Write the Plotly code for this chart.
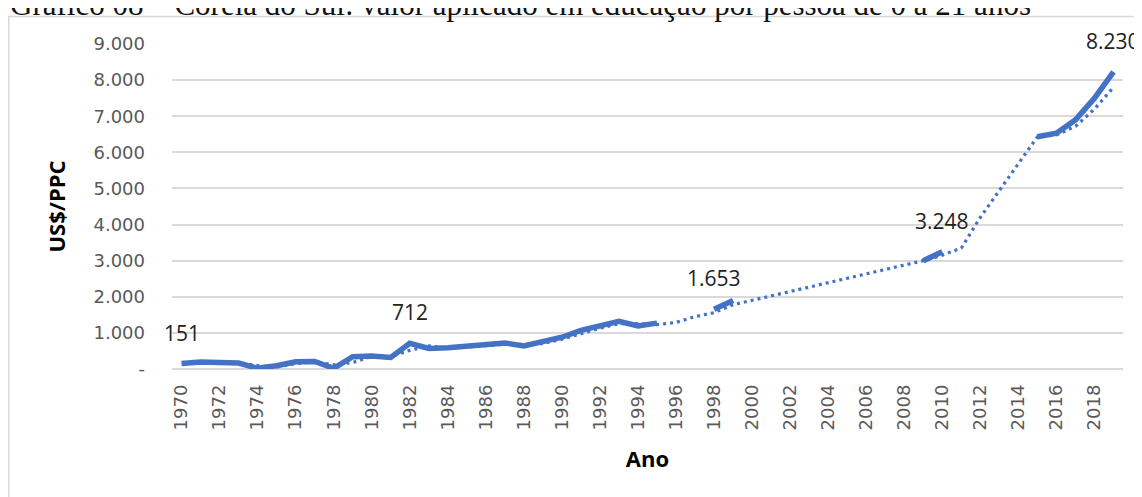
import plotly.graph_objects as go

years = list(range(1970, 2020))

# Observed values (US$/PPC); None = no solid segment drawn
valores = [151, 197, 180, 165, 20, 90, 200, 210, 20, 340,
           360, 320, 712, 570, 590, 630, 650, 720, 640, 770,
           880, 1070, 1190, 1320, 1190, 1270, None, None, 1653, 1900,
           None, None, None, None, None, None, None, None, None, 3000,
           3248, None, None, None, None, 6430, 6530, 6900, 7500, 8230]

# Dotted trend line
tendencia = [None, 175, 190, 172, 95, 55, 145, 205, 115, 180,
             345, 340, 516, 640, 580, 610, 640, 685, 680, 705,
             825, 975, 1130, 1255, 1255, 1230, 1290, 1450, 1560, 1780,
             1900, 2020, 2140, 2260, 2390, 2510, 2640, 2760, 2880, 3000,
             3150, 3350, 4200, 4950, 5700, 6430, 6480, 6720, 7200, 7800]

rotulos_anos = [1970, 1982, 1998, 2010, 2019]
rotulos_txt = ["151", "712", "1.653", "3.248", "8.230"]

y_ticks = list(range(0, 10000, 1000))
y_ticktext = ["-", "1.000", "2.000", "3.000", "4.000", "5.000", "6.000", "7.000", "8.000", "9.000"]
x_ticks = list(range(1970, 2019, 2))

cor = "#4472C4"

W, H = 1134, 489
L, R, T, B = 164, 19, 36, 128
PW, PH = W - L - R, H - T - B

fig = go.Figure()
fig.add_trace(go.Scatter(x=years, y=tendencia, mode="lines",
                         line=dict(color=cor, width=3.2, dash="3px,4px"),
                         connectgaps=True, hoverinfo="skip"))
fig.add_trace(go.Scatter(x=years, y=valores, mode="lines",
                         line=dict(color=cor, width=5.5),
                         connectgaps=False))

for a, t in zip(rotulos_anos, rotulos_txt):
    v = valores[years.index(a)]
    fig.add_annotation(x=a, y=v, text=t, showarrow=False, yanchor="middle",
                       yshift=31, font=dict(family="Open Sans", size=21, color="#222222"))

fig.add_annotation(xref="paper", yref="paper", x=(0 - L) / PW, y=(H - B - 16) / PH,
                   xanchor="left", yanchor="bottom", showarrow=False,
                   text="Gráfico 08 – Coreia do Sul: valor aplicado em educação por pessoa de 0 a 21 anos",
                   font=dict(family="Liberation Serif", size=31, color="#111111"))

fig.add_shape(type="rect", xref="paper", yref="paper",
              x0=(0.75 - L) / PW, x1=1.2, y0=-0.6, y1=(H - B - 8.5) / PH,
              line=dict(color="#D9D9D9", width=1.5), fillcolor="rgba(0,0,0,0)", layer="below")

fig.update_layout(
    width=W, height=H,
    margin=dict(l=L, r=R, t=T, b=B),
    paper_bgcolor="white", plot_bgcolor="white",
    showlegend=False,
    xaxis=dict(range=[1969.5, 2019.5], tickvals=x_ticks, ticktext=[str(v) for v in x_ticks],
               tickangle=-90, showgrid=False, zeroline=False, showline=False,
               ticks="", ticklabelstandoff=11, automargin=False,
               tickfont=dict(family="DejaVu Sans", size=18, color="#595959"),
               title=dict(text="<b>Ano</b>", font=dict(family="Open Sans", size=22, color="#000000"),
                          standoff=22)),
    yaxis=dict(range=[0, 9000], tickvals=y_ticks, ticktext=y_ticktext,
               showgrid=True, gridcolor="#D9D9D9", gridwidth=1.5,
               zeroline=True, zerolinecolor="#D9D9D9", zerolinewidth=1.5,
               showline=False, ticks="", ticklabelstandoff=26, automargin=False,
               tickfont=dict(family="DejaVu Sans", size=18, color="#595959"),
               title=dict(text="<b>US$/PPC</b>", font=dict(family="Open Sans", size=22, color="#000000"),
                          standoff=21)),
)

fig.write_html("out.html")
